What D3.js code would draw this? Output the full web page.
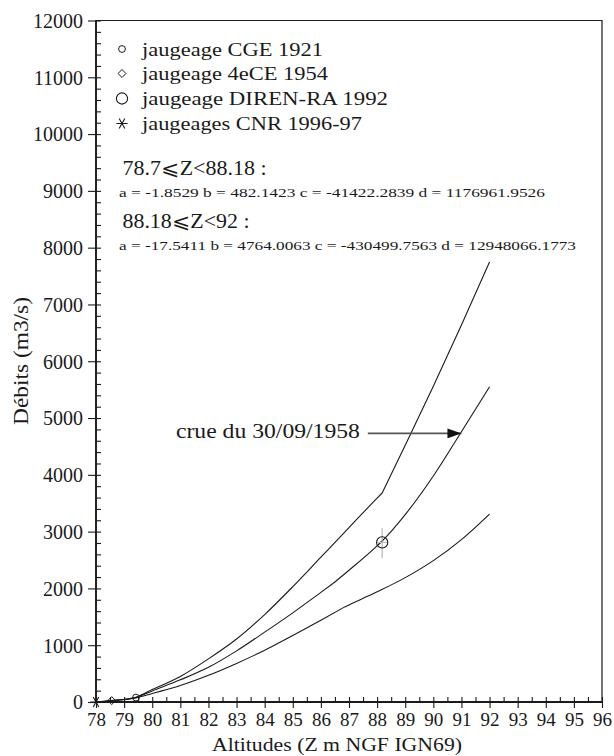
<!DOCTYPE html>
<html><head><meta charset="utf-8">
<script src="https://cdn.jsdelivr.net/npm/d3@7"></script>
<style>
body{margin:0;background:#fff}
svg{display:block}
svg text{font-family:"Liberation Serif","Times New Roman",Tinos,Times,"Noto Serif","DejaVu Serif",serif;fill:#1a1a1a}
</style>
</head><body>
<svg id="chart" width="614" height="756"></svg>
<script>
// ---------- data ----------
const xTickValues = [78,79,80,81,82,83,84,85,86,87,88,89,90,91,92,93,94,95,96];
const yTickValues = [0,1000,2000,3000,4000,5000,6000,7000,8000,9000,10000,11000,12000];

// upper curve (kink at 88.18)
const topZ1 = [78, 78.56, 79.42, 80, 81, 82, 83, 84, 85, 86, 87, 88, 88.18];
const topQ1 = [0, 25, 85, 220, 450, 760, 1110, 1540, 2030, 2550, 3070, 3590, 3680];
const topZ2 = [88.18, 89, 90, 91, 92];
const topQ2 = [3680, 4520, 5560, 6640, 7750];

// middle curve (slight kink at 86.44)
const midZ1 = [78, 78.56, 79.42, 80, 81, 82, 83, 84, 85, 86, 86.44];
const midQ1 = [0, 25, 80, 195, 390, 610, 900, 1230, 1570, 1930, 2090];
const midZ2 = [86.44, 87, 88, 88.18, 89, 90, 91, 92];
const midQ2 = [2090, 2320, 2750, 2835, 3300, 3980, 4760, 5550];

// lower curve (kink at 86.83)
const lowZ1 = [78, 78.56, 79.42, 80, 81, 82, 83, 84, 85, 86, 86.83];
const lowQ1 = [0, 22, 70, 150, 290, 470, 680, 910, 1170, 1440, 1670];
const lowZ2 = [86.83, 87, 88, 89, 90, 91, 92];
const lowQ2 = [1670, 1710, 1940, 2190, 2490, 2860, 3310];

const cgeZ = [79.42], cgeQ = [78];          // jaugeage CGE 1921
const eceZ = [78.56], eceQ = [25];          // jaugeage 4eCE 1954
const direnZ = [88.18], direnQ = [2810];    // jaugeage DIREN-RA 1992
const direnLow = [2530], direnHigh = [3060];
const cnrZ = [78.0], cnrQ = [0];            // jaugeages CNR 1996-97

const legendLabels = ["jaugeage CGE 1921", "jaugeage 4eCE 1954", "jaugeage DIREN-RA 1992", "jaugeages CNR 1996-97"];
const eqLabels = ["78.7\u2A7DZ<88.18 :", "a = -1.8529 b = 482.1423 c = -41422.2839 d = 1176961.9526",
                  "88.18\u2A7DZ<92 :", "a = -17.5411 b = 4764.0063 c = -430499.7563 d = 12948066.1773"];
const annotText = "crue du 30/09/1958";
const annotStartZ = 87.67, annotEndZ = 91.0, annotQ = 4730, annotTextZ = 87.39;
const xTitle = "Altitudes (Z m NGF IGN69)";
const yTitle = "Débits (m3/s)";

// ---------- layout ----------
const L = 96, R = 602, T = 20.5, B = 702;
const svg = d3.select("#chart");
const x = d3.scaleLinear().domain([78, 96]).range([L, R]);
const y = d3.scaleLinear().domain([0, 12000]).range([B, T]);
const ink = "#1a1a1a";

// frame
svg.append("path")
  .attr("d", `M${L},${T}H${R}V${B}H${L}Z`)
  .attr("fill", "none").attr("stroke", ink).attr("stroke-width", 1.2);
svg.append("line").attr("x1", L).attr("x2", L).attr("y1", T).attr("y2", B)
  .attr("stroke", ink).attr("stroke-width", 1.8);
svg.append("line").attr("x1", L).attr("x2", R).attr("y1", B).attr("y2", B)
  .attr("stroke", ink).attr("stroke-width", 1.8);

// y axis
const yMinor = d3.range(200, 12000, 200).filter(v => v % 1000 !== 0);
const gyMinor = svg.append("g").attr("transform", `translate(${L},0)`)
  .call(d3.axisLeft(y).tickValues(yMinor).tickSize(-5).tickFormat(""));
const gy = svg.append("g").attr("transform", `translate(${L},0)`)
  .call(d3.axisLeft(y).tickValues(yTickValues).tickSize(8).tickPadding(5).tickFormat(d3.format("d")));
gy.selectAll(".tick line").attr("x1", 5);
[gy, gyMinor].forEach(g => {
  g.attr("font-family", null);
  g.select(".domain").remove();
  g.selectAll(".tick line").attr("stroke", ink).attr("stroke-width", 1.1);
});
gy.selectAll(".tick text").style("font-size", "20px").attr("dy", "0.34em").attr("fill", ink);

// x axis
const xMinor = d3.range(78.5, 96, 1);
const gxMinor = svg.append("g").attr("transform", `translate(0,${B})`)
  .call(d3.axisBottom(x).tickValues(xMinor).tickSize(-5).tickFormat(""));
const gx = svg.append("g").attr("transform", `translate(0,${B})`)
  .call(d3.axisBottom(x).tickValues(xTickValues).tickSize(6).tickPadding(5).tickFormat(d3.format("d")));
gx.selectAll(".tick line").attr("y1", -5);
[gx, gxMinor].forEach(g => {
  g.attr("font-family", null);
  g.select(".domain").remove();
  g.selectAll(".tick line").attr("stroke", ink).attr("stroke-width", 1.1);
});
gx.selectAll(".tick text").style("font-size", "19px").attr("fill", ink);

// titles
svg.append("text").attr("x", 337).attr("y", 750.5).attr("text-anchor", "middle")
  .style("font-size", "19px").attr("textLength", 250).attr("lengthAdjust", "spacingAndGlyphs").text(xTitle);
svg.append("text").attr("transform", "translate(28,361) rotate(-90)").attr("text-anchor", "middle")
  .style("font-size", "20px").attr("textLength", 128).attr("lengthAdjust", "spacingAndGlyphs").text(yTitle);

// curves (each piece drawn separately so the kinks stay sharp)
const line = d3.line().x(d => x(d[0])).y(d => y(d[1])).curve(d3.curveMonotoneX);
[[topZ1, topQ1], [topZ2, topQ2], [midZ1, midQ1], [midZ2, midQ2],
 [lowZ1, lowQ1], [lowZ2, lowQ2]].forEach(([zs, qs]) => {
  svg.append("path").datum(zs.map((z, i) => [z, qs[i]]))
    .attr("d", line).attr("fill", "none").attr("stroke", ink).attr("stroke-width", 1.1)
    .attr("stroke-linejoin", "round");
});

// symbols
function drawSymbol(g, type, cx, cy) {
  if (type === 0) g.append("circle").attr("cx", cx).attr("cy", cy).attr("r", 3.4)
      .attr("fill", "none").attr("stroke", ink).attr("stroke-width", 1);
  else if (type === 1) g.append("path")
      .attr("d", d3.symbol(d3.symbolDiamond2, 40)())
      .attr("transform", `translate(${cx},${cy})`)
      .attr("fill", "none").attr("stroke", ink).attr("stroke-width", 1);
  else if (type === 2) g.append("circle").attr("cx", cx).attr("cy", cy).attr("r", 5.6)
      .attr("fill", "none").attr("stroke", ink).attr("stroke-width", 1.1);
  else g.append("path").attr("d", d3.symbol(d3.symbolAsterisk, 90)())
      .attr("transform", `translate(${cx},${cy}) rotate(90)`)
      .attr("fill", "none").attr("stroke", ink).attr("stroke-width", 1.1);
}

// DIREN error cross
svg.append("line").attr("x1", x(direnZ[0])).attr("x2", x(direnZ[0]))
  .attr("y1", y(direnHigh[0])).attr("y2", y(direnLow[0])).attr("stroke", "#aaa").attr("stroke-width", 1);
svg.append("line").attr("x1", x(direnZ[0]) - 5).attr("x2", x(direnZ[0]) + 5)
  .attr("y1", y(direnQ[0])).attr("y2", y(direnQ[0])).attr("stroke", "#bbb").attr("stroke-width", 1);

const pts = svg.append("g");
cgeZ.forEach((z, i) => drawSymbol(pts, 0, x(z), y(cgeQ[i])));
eceZ.forEach((z, i) => drawSymbol(pts, 1, x(z), y(eceQ[i])));
direnZ.forEach((z, i) => drawSymbol(pts, 2, x(z), y(direnQ[i])));
cnrZ.forEach((z, i) => drawSymbol(pts, 3, x(z), y(cnrQ[i])));

// legend
const legY = [49, 73.5, 98.5, 123.5];
const legW = [181, 186, 246, 220];
const leg = svg.append("g");
legendLabels.forEach((t, i) => {
  drawSymbol(leg, i, 122, legY[i]);
  leg.append("text").attr("x", 142).attr("y", legY[i] + 6.5).style("font-size", "19px")
    .attr("textLength", legW[i]).attr("lengthAdjust", "spacingAndGlyphs").text(t);
});

// equations
const eqX = [122.5, 119, 122.5, 119];
const eqY = [175, 197, 228, 250];
const eqW = [144, 426, 127, 457];
const eqF = [20, 13.5, 20, 13.5];
eqLabels.forEach((t, i) => {
  svg.append("text").attr("x", eqX[i]).attr("y", eqY[i]).style("font-size", eqF[i] + "px")
    .attr("textLength", eqW[i]).attr("lengthAdjust", "spacingAndGlyphs").text(t);
});

// annotation
svg.append("defs").append("marker").attr("id", "ah")
  .attr("viewBox", "0 0 14 10").attr("refX", 14).attr("refY", 5)
  .attr("markerWidth", 14).attr("markerHeight", 10).attr("markerUnits", "userSpaceOnUse")
  .attr("orient", "auto")
  .append("path").attr("d", "M0,0L14,5L0,10Z").attr("fill", "#111");
svg.append("line").attr("x1", x(annotStartZ)).attr("x2", x(annotEndZ))
  .attr("y1", y(annotQ)).attr("y2", y(annotQ))
  .attr("stroke", "#555").attr("stroke-width", 1.6).attr("marker-end", "url(#ah)");
svg.append("text").attr("x", x(annotTextZ)).attr("y", y(annotQ) + 5).attr("text-anchor", "end")
  .style("font-size", "20px").attr("textLength", 184).attr("lengthAdjust", "spacingAndGlyphs").text(annotText);
</script>
</body></html>
